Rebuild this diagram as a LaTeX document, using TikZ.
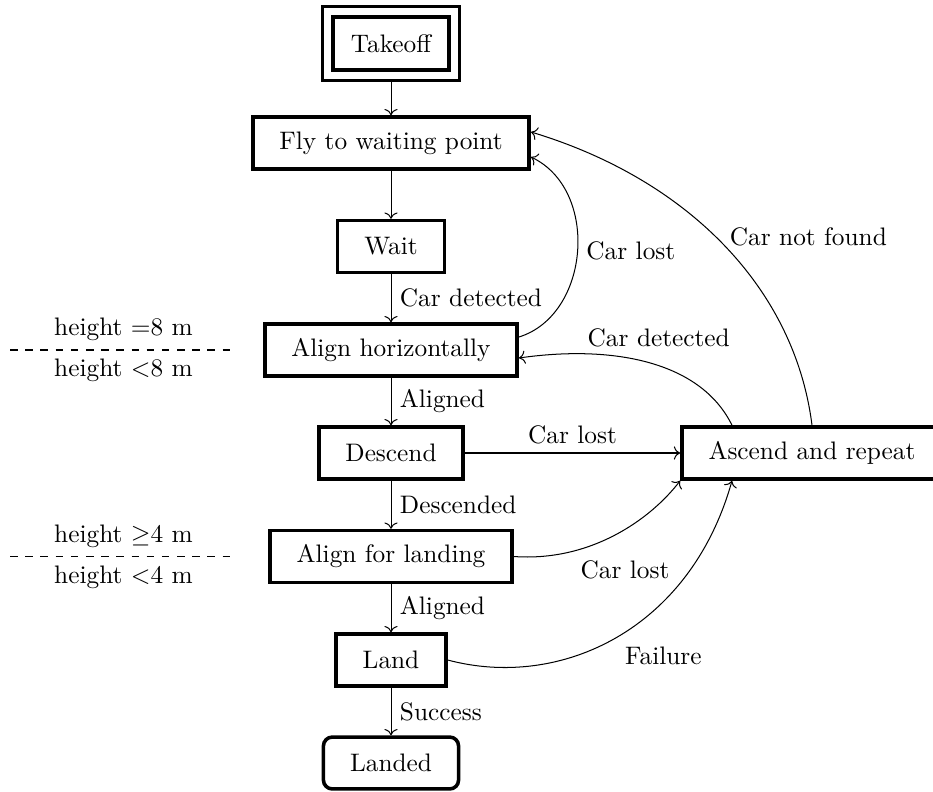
\documentclass[tikz,border=0pt]{standalone}
\usetikzlibrary{arrows.meta}
\begin{document}
\begin{tikzpicture}[x=0.395pt, y=-0.395pt,
  state/.style={draw, line width=1.4pt, inner xsep=10.5pt, minimum height=20.5pt},
  final/.style={state, rounded corners=3.5pt},
  link/.style={->, line width=0.4pt},
  border/.style={dashed, line width=0.4pt}]
\useasboundingbox (0,0) rectangle (933,791);
\clip (0,0) rectangle (933,791);

% states of the landing procedure
\node[state, inner xsep=7pt, minimum width=45.8pt, minimum height=21pt] (takeoff) at (391,43.5) {Takeoff};
\draw[line width=1.1pt] ([shift={(-9,9)}]takeoff.south west) rectangle ([shift={(9,-9)}]takeoff.north east);
\node[state] (fly) at (391,143) {Fly to waiting point};
\node[state] (wait) at (391,246.5) {Wait};
\node[state] (alignh) at (391,350) {Align horizontally};
\node[state] (descend) at (391,453) {Descend};
\node[state] (alignl) at (391,556.5) {Align for landing};
\node[state] (land) at (391,660) {Land};
\node[final] (landed) at (391,763) {Landed};
\node[state] (ascend) at (812,453) {Ascend and repeat};

% main sequence
\draw[link] ([shift={(0,9)}]takeoff.south) -- (fly);
\draw[link] (fly) -- (wait);
\draw[link] (wait) -- node[right] (l1) {Car detected} (alignh);
\draw[link] (alignh) -- node[right] (l2) {Aligned} (descend);
\draw[link] (descend) -- node[right] (l3) {Descended} (alignl);
\draw[link] (alignl) -- node[right] (l4) {Aligned} (land);
\draw[link] (land) -- node[right] (l5) {Success} (landed);

% recovery transitions
\draw[link] ([shift={(0,-13)}]alignh.east) .. controls (590,315) and (600,190) ..
  node[right] (l6) {Car lost} ([shift={(0,14)}]fly.east);
\draw[link] (ascend.north) .. controls (795,290) and (690,180) ..
  node[pos=0.53, right=2pt] (l7) {Car not found} ([shift={(0,-11)}]fly.east);
\draw[link] ([shift={(-80,0)}]ascend.north) .. controls (700,360) and (610,345) ..
  node[pos=0.45, above=4pt] (l8) {Car detected} ([shift={(0,8)}]alignh.east);
\draw[link] (descend.east) -- node[above] (l9) {Car lost} (ascend.west);
\draw[link] (alignl.east) .. controls (590,562) and (650,520) ..
  node[pos=0.27, below right] (l10) {Car lost} (ascend.south west);
\draw[link] (land.east) .. controls (560,690) and (690,630) ..
  node[pos=0.5, below right] (l11) {Failure} ([shift={(-80,0)}]ascend.south);

% height thresholds
\coordinate (h8l) at (10,350);
\coordinate (h8r) at (237,350);
\draw[border] (h8l) -- (h8r)
  node[midway, above] (h8a) {height $=$8 m}
  node[midway, below] (h8b) {height $<$8 m};
\coordinate (h4l) at (10,556.5);
\coordinate (h4r) at (237,556.5);
\draw[border] (h4l) -- (h4r)
  node[midway, above] (h4a) {height $\geq$4 m}
  node[midway, below] (h4b) {height $<$4 m};
\end{tikzpicture}
\end{document}
